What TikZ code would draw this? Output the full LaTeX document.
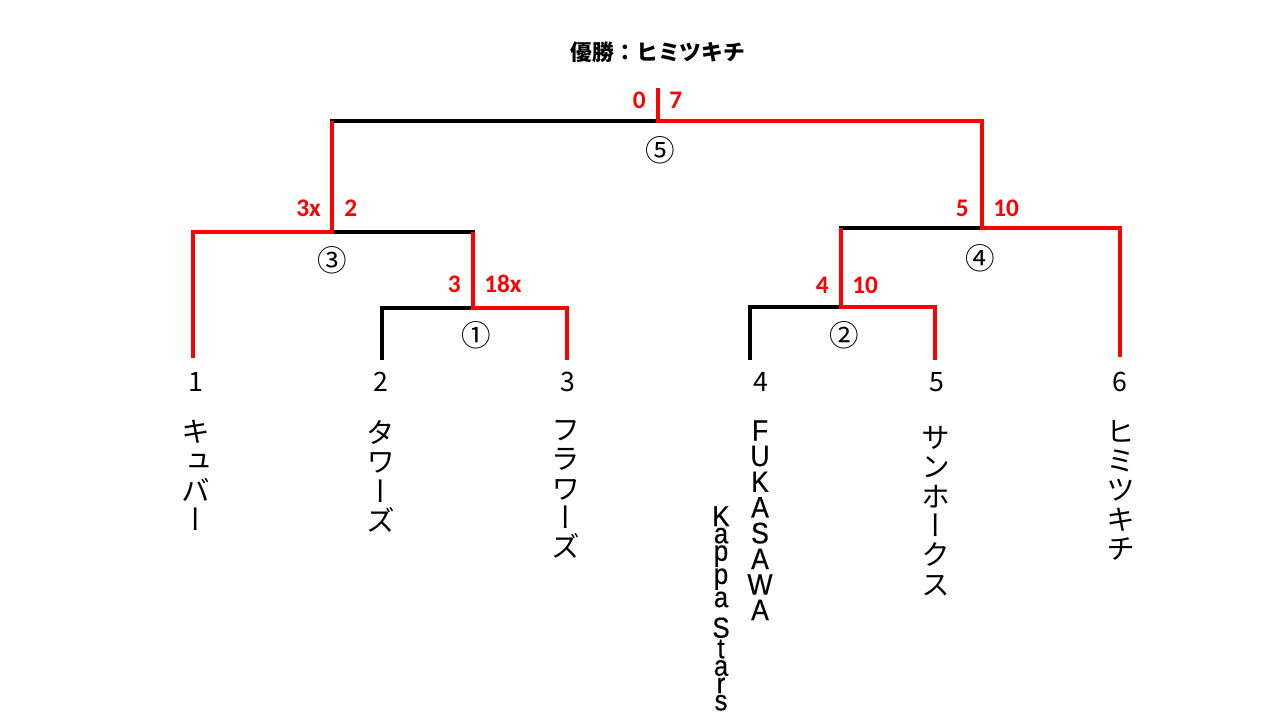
\documentclass[tikz,border=0pt]{standalone}
\usepackage{fontspec}
\setmainfont{Noto Sans CJK JP}
\newfontfamily\vertjp[RawFeature=+vert]{Noto Sans CJK JP}
\newfontfamily\scorefont{Carlito}
\newfontfamily\latinfont[FakeStretch=0.9,FakeBold=0.4]{Liberation Sans}
\usetikzlibrary{positioning}
\definecolor{winred}{HTML}{FF0000}
\definecolor{linkblack}{HTML}{000000}
\newcommand\latinstack[2]{\latinfont\fontsize{#1}{#1}\selectfont\baselineskip=0pt\relax\lineskip=#2\relax\lineskiplimit=0pt\relax}

\tikzset{
  bracket/.style={line width=2.8pt, linkblack},
  winner/.style={line width=2.8pt, winred},
  score/.style={font=\scorefont\bfseries\fontsize{18}{18}\selectfont, text=winred, inner sep=0pt},
  matchno/.style={font=\fontsize{21}{21}\selectfont, inner sep=0pt},
  seed/.style={font=\fontsize{19}{19}\selectfont, inner sep=0pt},
  team/.style={font=\vertjp\fontsize{20.5}{20.9}\selectfont, align=center, anchor=north, inner sep=0pt},
  teamlatin/.style={font=\latinstack{21pt}{3.7pt}, align=center, anchor=north, inner sep=0pt},
}

\begin{document}
\begin{tikzpicture}[x=0.025cm, y=-0.025cm]
\useasboundingbox (0,0) rectangle (1280,720);
\node[font=\bfseries\fontsize{15.5}{15.5}\selectfont, inner sep=0pt] (title) at (658,52) {優勝：ヒミツキチ};

% bracket points
\coordinate (top5) at (658,88);
\coordinate (m5) at (658,121);
\coordinate (m3) at (332,232);
\coordinate (m4) at (982,228);
\coordinate (m1) at (473,308);
\coordinate (m2) at (841,307);
\coordinate (s1) at (193,358);
\coordinate (s2) at (382,360);
\coordinate (s3) at (567,360);
\coordinate (s4) at (750,360);
\coordinate (s5) at (935,360);
\coordinate (s6) at (1120,357);

\draw[bracket] (m3) |- (m5) -| (m4);
\draw[bracket] (s1) |- (m3) -| (m1);
\draw[bracket] (s2) |- (m1) -| (s3);
\draw[bracket] (s4) |- (m2) -| (s5);
\draw[bracket] (m2) |- (m4) -| (s6);

% winners
\draw[winner] (top5) -- (m5) -| (m4) -| (s6);
\draw[winner] (m3 |- m5) -- (m3) -| (s1);
\draw[winner] (m3 -| m1) -- (m1) -| (s3);
\draw[winner] (m4 -| m2) -- (m2) -| (s5);

\node[score, anchor=east] (sc5l) at (646,100) {0};
\node[score, anchor=west] (sc5r) at (669,100) {7};
\node[score, anchor=east] (sc3l) at (321,208) {3x};
\node[score, anchor=west] (sc3r) at (344,208) {2};
\node[score, anchor=east] (sc1l) at (461,284) {3};
\node[score, anchor=west] (sc1r) at (484,284) {18x};
\node[score, anchor=east] (sc4l) at (969,208) {5};
\node[score, anchor=west] (sc4r) at (993,208) {10};
\node[score, anchor=east] (sc2l) at (829,285) {4};
\node[score, anchor=west] (sc2r) at (852,285) {10};

\node[matchno] (no5) at (660,150) {⑤};
\node[matchno] (no3) at (332,260) {③};
\node[matchno] (no1) at (476,335) {①};
\node[matchno] (no4) at (980,258) {④};
\node[matchno] (no2) at (844,335) {②};

\node[seed] (seed1) at (196,382) {1};
\node[seed] (seed2) at (381,382) {2};
\node[seed] (seed3) at (568,382) {3};
\node[seed] (seed4) at (761,382) {4};
\node[seed] (seed5) at (937,382) {5};
\node[seed] (seed6) at (1120,382) {6};

\node[team] (team1) at (196,420) {キ\\ュ\\バ\\ー};
\node[team] (team2) at (381,420) {タ\\ワ\\ー\\ズ};
\node[team] (team3) at (566,420) {フ\\ラ\\ワ\\ー\\ズ};
\node[teamlatin] (team4a) at (760,420) {F\\U\\K\\A\\S\\A\\W\\A};
\node[teamlatin, font=\latinstack{20.5pt}{1.2pt}] (team4b) at (721,506) {K\\a\\p\\p\\a\\[6pt]S\\t\\a\\r\\s};
\node[team] (team5) at (936,426) {サ\\ン\\ホ\\ー\\ク\\ス};
\node[team] (team6) at (1121,420) {ヒ\\ミ\\ツ\\キ\\チ};
\end{tikzpicture}
\end{document}
